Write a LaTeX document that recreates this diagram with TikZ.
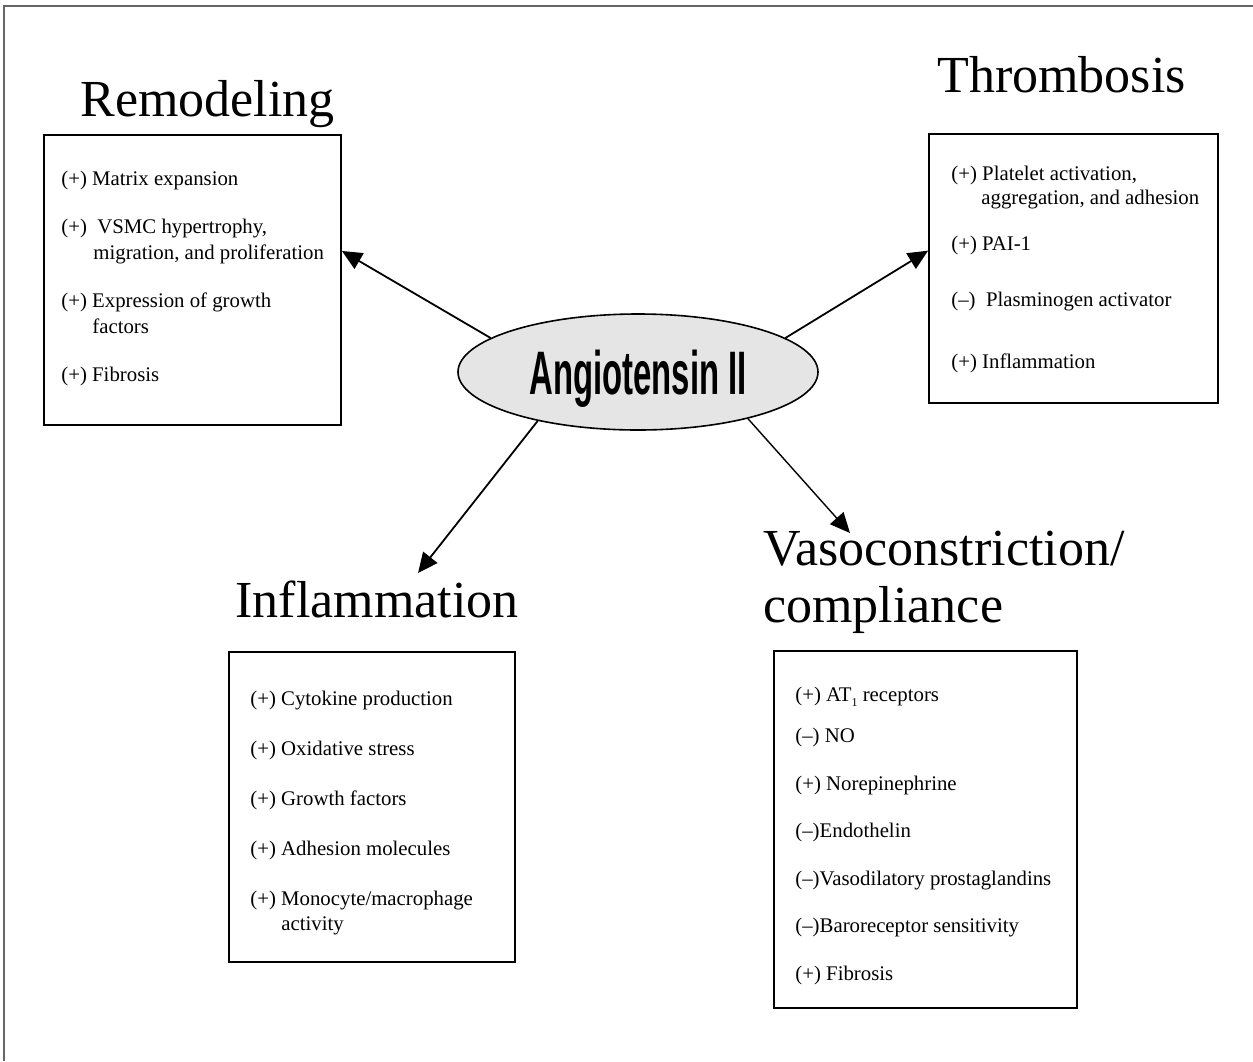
\documentclass[tikz,border=0pt]{standalone}
\usepackage{fontspec}
\usepackage{graphicx}
\setmainfont{Liberation Serif}
\newfontfamily\angfont{Liberation Sans}
\usetikzlibrary{arrows.meta,shapes.geometric}

\begin{document}
\begin{tikzpicture}[x=0.5pt,y=-0.5pt,
  heading/.style={font=\fontsize{26}{28.5}\selectfont,inner sep=0pt},
  effectbox/.style={draw,line width=0.9pt,inner sep=0pt},
  effectlist/.style={font=\fontsize{10.4}{12.5}\selectfont,align=left,inner sep=0pt,anchor=north west},
  effect/.style={-{Triangle[length=10pt,width=9pt]},line width=0.9pt}]
\useasboundingbox (0,0) rectangle (1253,1061);
\draw[black!60,line width=0.8pt] (4,1061)--(4,6)--(1253,6);

% centre
\node[ellipse,draw,line width=0.8pt,fill=black!10,minimum width=180pt,minimum height=58pt,inner sep=0pt,text depth=0pt] (ang) at (638,372)
  {\scalebox{0.535}[1]{\angfont\bfseries\fontsize{30.7}{30.7}\selectfont Angiotensin II}};

% headings
\node[heading,anchor=base west] (remodel-title) at (80,116) {Remodeling};
\node[heading,anchor=base west] (thromb-title) at (937,92) {Thrombosis};
\node[heading,anchor=base west] (inflam-title) at (235,617) {Inflammation};
\node[heading,anchor=north west,align=left] (vaso-title) at (763,531) {Vasoconstriction/\\compliance};

% boxes
\node[effectbox,minimum width=148.5pt,minimum height=145pt] (remodel) at (192.5,280) {};
\node[effectbox,minimum width=144.5pt,minimum height=134.5pt] (thromb) at (1073.5,268.5) {};
\node[effectbox,minimum width=143pt,minimum height=155pt] (inflam) at (372,807) {};
\node[effectbox,minimum width=151.5pt,minimum height=178.5pt] (vaso) at (925.5,829.5) {};

\node[effectlist] (remodel-list) at (61,170.5) {(+) Matrix expansion\\[11.5pt]
  (+)\ \ VSMC hypertrophy,\\[0.5pt]
  \hspace*{16pt}migration, and proliferation\\[11.5pt]
  (+) Expression of growth\\[0.5pt]
  \hspace*{15.5pt}factors\\[11.5pt]
  (+) Fibrosis};
\node[effectlist] (thromb-list) at (951,166) {(+) Platelet activation,\\[-0.5pt]
  \hspace*{15pt}aggregation, and adhesion\\[10.5pt]
  (+) PAI-1\\[15.5pt]
  (–)\ \ Plasminogen activator\\[18.5pt]
  (+) Inflammation};
\node[effectlist] (inflam-list) at (250,691) {(+) Cytokine production\\[12.5pt]
  (+) Oxidative stress\\[12.5pt]
  (+) Growth factors\\[12.5pt]
  (+) Adhesion molecules\\[12.5pt]
  (+) Monocyte/macrophage\\
  \hspace*{15.5pt}activity};
\node[effectlist] (vaso-list) at (795,687) {(+) AT\raisebox{-2.5pt}{\fontsize{6}{6}\selectfont 1} receptors\\[8pt]
  (–) NO\\[11.25pt]
  (+) Norepinephrine\\[11.25pt]
  (–)Endothelin\\[11.25pt]
  (–)Vasodilatory prostaglandins\\[11.25pt]
  (–)Baroreceptor sensitivity\\[11.25pt]
  (+) Fibrosis};

% arrows
\coordinate (inflam-in) at (418,573);
\coordinate (vaso-in) at (850,533);
\draw[effect] (ang.167.9) -- (remodel.11.4);
\draw[effect] (ang.13.2) -- (thromb.173.1);
\draw[effect] (ang.206.6) -- (inflam-in);
\draw[effect,line width=0.7pt] (ang.337.8) -- (vaso-in);
\end{tikzpicture}
\end{document}
